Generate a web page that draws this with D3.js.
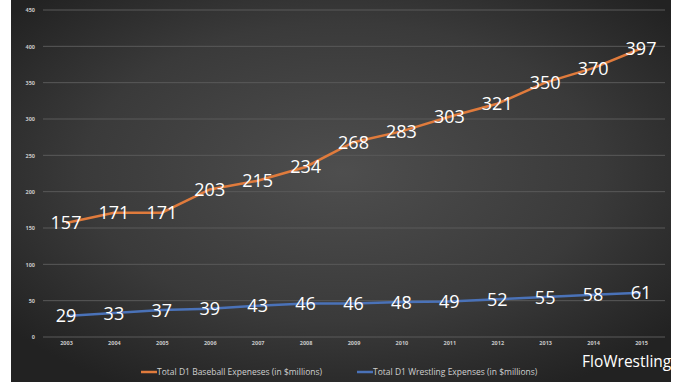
<!DOCTYPE html>
<html>
<head>
<meta charset="utf-8">
<script src="https://cdn.jsdelivr.net/npm/d3@7"></script>
<style>
  body { margin: 0; background: #fff; }
  svg { display: block; }
</style>
</head>
<body>
<svg id="grafica" width="680" height="382"></svg>
<script>
var years = ["2003","2004","2005","2006","2007","2008","2009","2010","2011","2012","2013","2014","2015"]
var baseball = [157,171,171,203,215,234,268,283,303,321,350,370,397]
var wrestling = [29,33,37,39,43,46,46,48,49,52,55,58,61]
var yTicks = [0,50,100,150,200,250,300,350,400,450]
var seriesNames = ["Total D1 Baseball Expeneses (in $millions)", "Total D1 Wrestling Expenses (in $millions)"]
var colors = ["#e07b3c", "#4a72b8"]

var svg = d3.select("#grafica")

// background panel with soft radial shading
var defs = svg.append("defs")
var grad = defs.append("radialGradient")
  .attr("id", "bg")
  .attr("cx", "50%").attr("cy", "45%").attr("r", "65%")
grad.append("stop").attr("offset", "0%").attr("stop-color", "#4e4e4e")
grad.append("stop").attr("offset", "60%").attr("stop-color", "#3a3a3a")
grad.append("stop").attr("offset", "100%").attr("stop-color", "#222")

svg.append("rect")
  .attr("x", 11).attr("y", 0)
  .attr("width", 660).attr("height", 382)
  .attr("fill", "url(#bg)")

var x = d3.scalePoint()
  .domain(years)
  .range([66, 641])

var y = d3.scaleLinear()
  .domain([0, 450])
  .range([337, 10])

// grid
svg.append("g")
  .selectAll("line")
  .data(yTicks)
  .enter().append("line")
    .attr("x1", 43).attr("x2", 665)
    .attr("y1", d => y(d)).attr("y2", d => y(d))
    .attr("stroke", "#5a5a5a")
    .attr("stroke-width", 1)

// y axis labels
var yAxis = svg.append("g")
  .attr("transform", "translate(35,0)")
  .call(d3.axisLeft(y).tickValues(yTicks).tickSize(0).tickPadding(0))
yAxis.select(".domain").remove()
yAxis.selectAll("text")
  .attr("fill", "#c8c8c8")
  .style("font-family", "'Open Sans', sans-serif")
  .style("font-size", "5.5px")
  .style("font-weight", "bold")

// x axis labels
var xAxis = svg.append("g")
  .attr("transform", "translate(0,341)")
  .call(d3.axisBottom(x).tickSize(0).tickPadding(0))
xAxis.select(".domain").remove()
xAxis.selectAll("text")
  .attr("fill", "#c8c8c8")
  .style("font-family", "'Open Sans', sans-serif")
  .style("font-size", "5.5px")
  .style("font-weight", "bold")

var series = [baseball, wrestling]

var line = d3.line()
  .x((d, i) => x(years[i]))
  .y(d => y(d))

series.forEach(function(s, k) {
  svg.append("path")
    .datum(s)
    .attr("fill", "none")
    .attr("stroke", colors[k])
    .attr("stroke-width", 2.5)
    .attr("d", line)

  svg.append("g")
    .selectAll("text")
    .data(s)
    .enter().append("text")
      .attr("x", (d, i) => x(years[i]))
      .attr("y", d => y(d))
      .attr("dy", "0.36em")
      .attr("text-anchor", "middle")
      .attr("fill", "#fff")
      .style("font-family", "'Open Sans', sans-serif")
      .style("font-size", "18px")
      .text(d => d)
})

// legend
var legendX = [141, 357]
seriesNames.forEach(function(name, k) {
  var g = svg.append("g").attr("transform", `translate(${legendX[k]},372)`)
  g.append("line")
    .attr("x1", 0).attr("x2", 16)
    .attr("stroke", colors[k])
    .attr("stroke-width", 2.5)
  g.append("text")
    .attr("x", 16)
    .attr("dy", "0.35em")
    .attr("fill", "#cfcfcf")
    .style("font-family", "'Open Sans', sans-serif")
    .style("font-size", "8.5px")
    .text(name)
})

svg.append("text")
  .attr("x", 582)
  .attr("y", 367)
  .attr("fill", "#fff")
  .style("font-family", "'Open Sans', sans-serif")
  .style("font-size", "15.5px")
  .text("FloWrestling")

// white strip on the right edge
svg.append("rect")
  .attr("x", 671).attr("y", 0)
  .attr("width", 9).attr("height", 382)
  .attr("fill", "#fff")
</script>
</body>
</html>
